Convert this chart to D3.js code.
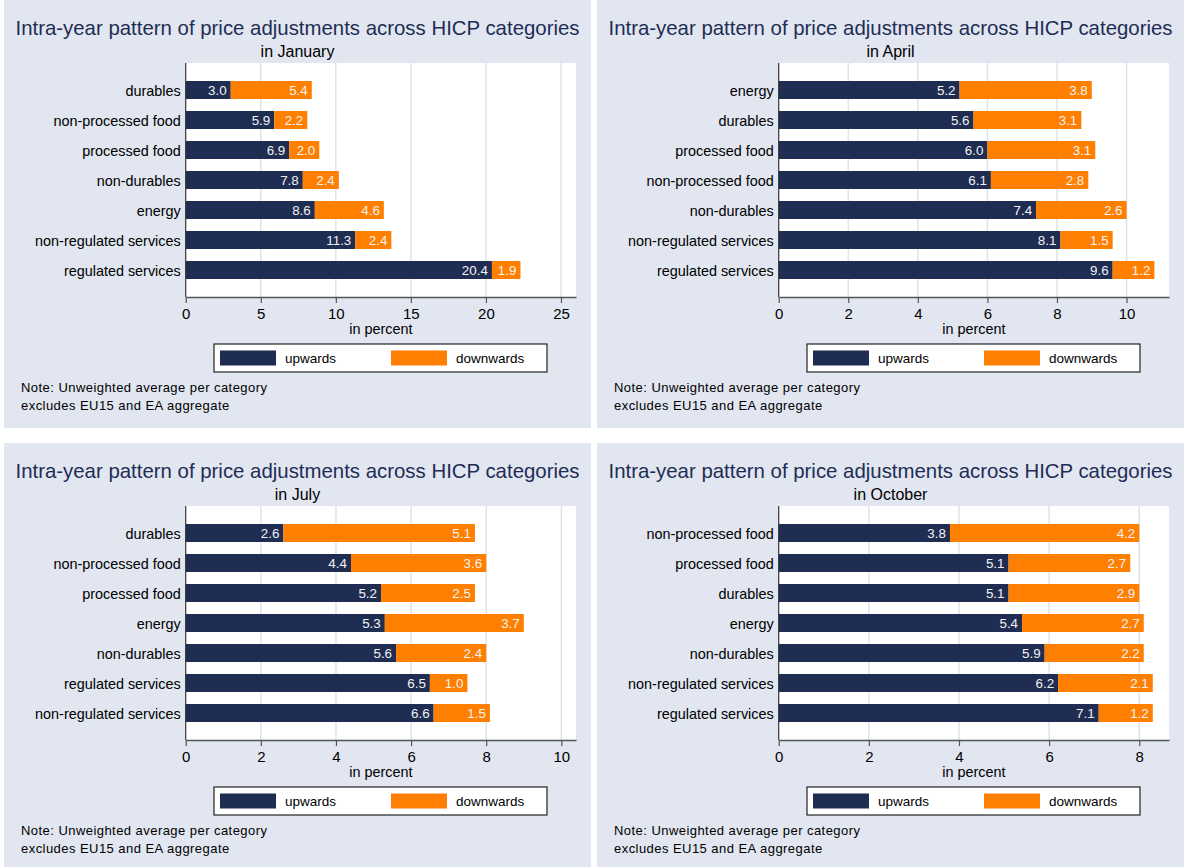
<!DOCTYPE html>
<meta charset='utf-8'>
<style>
    body { margin: 0; background: #fff; }
    text { font-family: Arial, "Liberation Sans", sans-serif; }
    .panel { fill: #e1e6f0; }
    .grid line { stroke: #dde3ee; stroke-width: 1.5; }
    .title { fill: #1f2d55; font-size: 20.4px; }
    .sub { fill: #000; font-size: 16px; }
    .cat { fill: #000; font-size: 14.4px; }
    .val { fill: #f2f2f2; font-size: 13.4px; }
    .note { fill: #000; font-size: 13px; letter-spacing: 0.45px; }
</style>

<svg width="1184" height="867"></svg>
<script src="https://d3js.org/d3.v7.min.js"></script>

<script>

// --- data ---
var janCats = ['durables', 'non-processed food', 'processed food', 'non-durables', 'energy', 'non-regulated services', 'regulated services'];
var janUp   = [3.0, 5.9, 6.9, 7.8, 8.6, 11.3, 20.4];
var janDown = [5.4, 2.2, 2.0, 2.4, 4.6, 2.4, 1.9];

var aprCats = ['energy', 'durables', 'processed food', 'non-processed food', 'non-durables', 'non-regulated services', 'regulated services'];
var aprUp   = [5.2, 5.6, 6.0, 6.1, 7.4, 8.1, 9.6];
var aprDown = [3.8, 3.1, 3.1, 2.8, 2.6, 1.5, 1.2];

var julCats = ['durables', 'non-processed food', 'processed food', 'energy', 'non-durables', 'regulated services', 'non-regulated services'];
var julUp   = [2.6, 4.4, 5.2, 5.3, 5.6, 6.5, 6.6];
var julDown = [5.1, 3.6, 2.5, 3.7, 2.4, 1.0, 1.5];

var octCats = ['non-processed food', 'processed food', 'durables', 'energy', 'non-durables', 'non-regulated services', 'regulated services'];
var octUp   = [3.8, 5.1, 5.1, 5.4, 5.9, 6.2, 7.1];
var octDown = [4.2, 2.7, 2.9, 2.7, 2.2, 2.1, 1.2];

var months   = ['January', 'April', 'July', 'October'];
var axisMax  = [26.0, 11.22, 10.39, 8.66];
var tickVals = [[0, 5, 10, 15, 20, 25], [0, 2, 4, 6, 8, 10], [0, 2, 4, 6, 8, 10], [0, 2, 4, 6, 8]];
var seriesNames = ['upwards', 'downwards'];

var titleText = 'Intra-year pattern of price adjustments across HICP categories';
var noteLines = ['Note: Unweighted average per category', 'excludes EU15 and EA aggregate'];

var upColor = '#1f2d53', downColor = '#ff7f00';

var svg = d3.select('svg');

var panels = [
    {x: 4,   y: 0,   cats: janCats, up: janUp, down: janDown},
    {x: 597, y: 0,   cats: aprCats, up: aprUp, down: aprDown},
    {x: 4,   y: 443, cats: julCats, up: julUp, down: julDown},
    {x: 597, y: 443, cats: octCats, up: octUp, down: octDown}
];

var pw = 587, ph = 428;
var plotL = 181.7, plotR = 572, plotT = 63, plotB = 297;

panels.forEach(function(p, i) {
    var g = svg.append('g').attr('transform', 'translate(' + p.x + ',' + p.y + ')');

    g.append('rect').attr('class', 'panel')
        .attr('width', pw).attr('height', i < 2 ? ph : 867 - p.y);

    g.append('text').attr('class', 'title')
        .attr('x', pw / 2).attr('y', 35)
        .attr('text-anchor', 'middle')
        .text(titleText);

    g.append('text').attr('class', 'sub')
        .attr('x', pw / 2).attr('y', 57)
        .attr('text-anchor', 'middle')
        .text('in ' + months[i]);

    var x = d3.scaleLinear().domain([0, axisMax[i]]).range([plotL, plotR]);
    var y = d3.scaleBand().domain(p.cats).range([plotT, plotB])
        .paddingInner(0.4).paddingOuter(0.6);

    g.append('rect')
        .attr('x', plotL).attr('y', plotT)
        .attr('width', plotR - plotL).attr('height', plotB - plotT)
        .attr('fill', '#fff');

    g.append('g').attr('class', 'grid')
      .selectAll('line')
      .data(tickVals[i].filter(function(t) { return t > 0; }))
      .enter().append('line')
        .attr('x1', x).attr('x2', x)
        .attr('y1', plotT).attr('y2', plotB);

    var rows = p.cats.map(function(c, k) { return {cat: c, up: p.up[k], down: p.down[k]}; });

    var row = g.append('g').selectAll('g')
        .data(rows)
        .enter().append('g');

    row.append('rect')
        .attr('x', x(0))
        .attr('y', function(d) { return y(d.cat); })
        .attr('width', function(d) { return x(d.up) - x(0); })
        .attr('height', y.bandwidth())
        .attr('fill', upColor);

    row.append('rect')
        .attr('x', function(d) { return x(d.up); })
        .attr('y', function(d) { return y(d.cat); })
        .attr('width', function(d) { return x(d.up + d.down) - x(d.up); })
        .attr('height', y.bandwidth())
        .attr('fill', downColor);

    row.append('text').attr('class', 'val')
        .attr('x', function(d) { return x(d.up) - 4; })
        .attr('y', function(d) { return y(d.cat) + y.bandwidth() / 2; })
        .attr('dy', '0.38em')
        .attr('text-anchor', 'end')
        .text(function(d) { return d.up.toFixed(1); });

    row.append('text').attr('class', 'val')
        .attr('x', function(d) { return x(d.up + d.down) - 4; })
        .attr('y', function(d) { return y(d.cat) + y.bandwidth() / 2; })
        .attr('dy', '0.38em')
        .attr('text-anchor', 'end')
        .text(function(d) { return d.down.toFixed(1); });

    row.append('text').attr('class', 'cat')
        .attr('x', plotL - 5)
        .attr('y', function(d) { return y(d.cat) + y.bandwidth() / 2; })
        .attr('dy', '0.45em')
        .attr('text-anchor', 'end')
        .text(function(d) { return d.cat; });

    // y axis line
    g.append('line')
        .attr('x1', plotL).attr('x2', plotL)
        .attr('y1', plotT).attr('y2', plotB)
        .attr('stroke', '#333').attr('stroke-width', 1.2);

    var xAxis = g.append('g')
        .attr('transform', 'translate(0,' + plotB + ')')
        .call(d3.axisBottom(x).tickValues(tickVals[i]).tickSize(6).tickPadding(5).tickSizeOuter(0));
    xAxis.select('.domain').attr('stroke', '#555').attr('stroke-width', 1.5);
    xAxis.selectAll('.tick line').attr('stroke', '#555').attr('stroke-width', 1.2);
    xAxis.selectAll('.tick text')
        .attr('fill', '#000')
        .style('font-size', '15px')
        .style('font-family', 'Arial, "Liberation Sans", sans-serif');

    g.append('text').attr('class', 'cat')
        .attr('x', (plotL + plotR) / 2).attr('y', 334)
        .attr('text-anchor', 'middle')
        .text('in percent');

    // legend
    var lg = g.append('g').attr('transform', 'translate(210,344)');
    lg.append('rect')
        .attr('width', 333).attr('height', 28)
        .attr('fill', '#fff').attr('stroke', '#222').attr('stroke-width', 1.2);
    var legendCols = [upColor, downColor];
    seriesNames.forEach(function(name, k) {
        lg.append('rect')
            .attr('x', 6 + k * 171).attr('y', 6.5)
            .attr('width', 56).attr('height', 15)
            .attr('fill', legendCols[k]);
        lg.append('text').attr('class', 'cat')
            .style('font-size', '13.5px')
            .attr('x', 71 + k * 171).attr('y', 19)
            .text(name);
    });

    g.selectAll('.note')
        .data(noteLines)
        .enter().append('text').attr('class', 'note')
        .attr('x', 17)
        .attr('y', function(d, k) { return 392 + k * 18; })
        .text(function(d) { return d; });
});

</script>
